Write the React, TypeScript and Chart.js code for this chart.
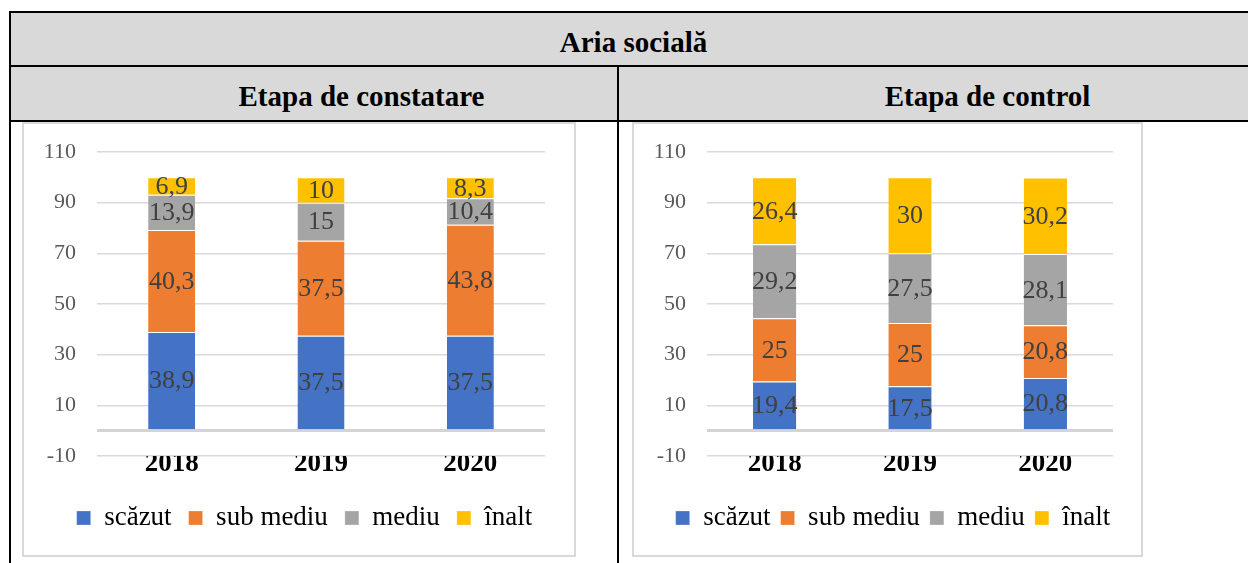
import React, { useEffect, useRef } from 'react';
import { Chart, registerables } from 'chart.js';

Chart.register(...registerables);

const years = ['2018', '2019', '2020'];
const seriesNames = ['scăzut', 'sub mediu', 'mediu', 'înalt'];
const seriesColors = ['#4472c4', '#ed7d31', '#a5a5a5', '#ffc000'];

const constatareScazut = [38.9, 37.5, 37.5];
const constatareSubMediu = [40.3, 37.5, 43.8];
const constatareMediu = [13.9, 15, 10.4];
const constatareInalt = [6.9, 10, 8.3];

const controlScazut = [19.4, 17.5, 20.8];
const controlSubMediu = [25, 25, 20.8];
const controlMediu = [29.2, 27.5, 28.1];
const controlInalt = [26.4, 30, 30.2];

const yTicks = [-10, 10, 30, 50, 70, 90, 110];

const SERIF = "'Liberation Serif', 'Times New Roman', serif";

const valueLabels = {
  id: 'valueLabels',
  afterDatasetsDraw(chart: any) {
    const ctx = chart.ctx;
    ctx.save();
    ctx.font = `26px ${SERIF}`;
    ctx.fillStyle = '#404040';
    ctx.textAlign = 'center';
    ctx.textBaseline = 'middle';
    chart.data.datasets.forEach((ds: any, i: number) => {
      const meta = chart.getDatasetMeta(i);
      meta.data.forEach((el: any, j: number) => {
        const v = ds.data[j];
        const { x, y, base } = el.getProps(['x', 'y', 'base'], true);
        ctx.fillText(String(v).replace('.', ','), x, (y + base) / 2 + 1);
      });
    });
    ctx.restore();
  },
};

const legendShift = {
  id: 'legendShift',
  afterLayout(chart: any, _args: any, opts: any) {
    const lg = chart.legend;
    if (lg && opts && opts.dx) {
      lg.left += opts.dx;
      lg.right += opts.dx;
    }
  },
};

type BoxProps = {
  series: number[][];
  width: number;
  height: number;
  padRight: number;
  yWidth: number;
  legendPad: number;
  legendDx: number;
  barPct: number;
};

function StackedChart(p: BoxProps) {
  const ref = useRef<HTMLCanvasElement | null>(null);
  useEffect(() => {
    if (!ref.current) return;
    const xHeight = 48.5 - p.legendPad;
    const chart = new Chart(ref.current, {
      type: 'bar',
      data: {
        labels: years,
        datasets: seriesNames.map((name, i) => ({
          label: name,
          data: p.series[i],
          backgroundColor: seriesColors[i],
          borderColor: '#ffffff',
          borderWidth: { top: 1, right: 0, bottom: 0, left: 0 },
          borderSkipped: 'start',
          categoryPercentage: 1,
          barPercentage: p.barPct,
        })),
      },
      options: {
        responsive: false,
        animation: false,
        devicePixelRatio: 1,
        layout: { autoPadding: false, padding: { top: 28, left: 0, right: p.padRight, bottom: 13.5 } },
        plugins: {
          tooltip: { enabled: false },
          legendShift: { dx: p.legendDx },
          legend: {
            position: 'bottom',
            labels: {
              boxWidth: 14,
              boxHeight: 14,
              padding: p.legendPad,
              color: '#000000',
              font: { family: SERIF, size: 27 },
            },
          },
        },
        scales: {
          x: {
            stacked: true,
            grid: { display: false, drawTicks: false },
            border: { display: false },
            ticks: {
              padding: -8,
              color: '#000000',
              maxRotation: 0,
              font: { family: SERIF, size: 27, weight: 'bold' },
            },
            afterFit: (s: any) => {
              s.height = xHeight;
              s.paddingLeft = 0;
              s.paddingRight = 0;
            },
          },
          y: {
            stacked: true,
            min: yTicks[0],
            max: yTicks[yTicks.length - 1],
            afterBuildTicks: (s: any) => {
              s.ticks = [...yTicks, 0].map((v) => ({ value: v }));
            },
            afterFit: (s: any) => {
              s.width = p.yWidth;
              s.paddingTop = 0;
              s.paddingBottom = 0;
            },
            grid: {
              drawTicks: false,
              color: (c: any) => (c.tick && c.tick.value === 0 ? '#d4d4d4' : '#d9d9d9'),
              lineWidth: (c: any) => (c.tick && c.tick.value === 0 ? 3 : 1.5),
            },
            border: { display: false },
            ticks: {
              autoSkip: false,
              padding: 21,
              color: '#595959',
              font: { family: SERIF, size: 22 },
              callback: (v: any) => (Number(v) === 0 ? '' : String(v)),
            },
          },
        },
      },
      plugins: [valueLabels, legendShift],
    } as any);
    return () => chart.destroy();
  }, []);
  return <canvas ref={ref} width={p.width} height={p.height} style={{ display: 'block', width: p.width, height: p.height }} />;
}

const abs = (s: React.CSSProperties): React.CSSProperties => ({ position: 'absolute', ...s });

export default function App() {
  const titleStyle = (center: number, top: number): React.CSSProperties =>
    abs({
      left: center - 300,
      top,
      width: 600,
      textAlign: 'center',
      fontFamily: SERIF,
      fontWeight: 'bold',
      fontSize: 29,
      lineHeight: '32px',
      color: '#000',
      whiteSpace: 'nowrap',
    });
  return (
    <div style={abs({ left: 0, top: 0, width: 1248, height: 563, background: '#fff', overflow: 'hidden' })}>
      <div style={abs({ left: 11, top: 13, width: 1237, height: 107, background: '#d9d9d9' })} />
      <div style={abs({ left: 9, top: 11, width: 1239, height: 2, background: '#000' })} />
      <div style={abs({ left: 9, top: 11, width: 2, height: 552, background: '#000' })} />
      <div style={abs({ left: 9, top: 65, width: 1239, height: 2, background: '#000' })} />
      <div style={abs({ left: 9, top: 120, width: 1239, height: 2, background: '#000' })} />
      <div style={abs({ left: 617, top: 65, width: 2, height: 498, background: '#000' })} />

      <div style={titleStyle(633.5, 26)}>Aria socială</div>
      <div style={titleStyle(361.5, 80)}>Etapa de constatare</div>
      <div style={titleStyle(987.5, 80)}>Etapa de control</div>

      <div
        style={abs({ left: 22, top: 122, width: 554, height: 435, border: '2px solid #d9d9d9', boxSizing: 'border-box', background: '#fff' })}
      >
        <StackedChart
          series={[constatareScazut, constatareSubMediu, constatareMediu, constatareInalt]}
          width={550}
          height={431}
          padRight={29}
          yWidth={73}
          legendPad={17}
          legendDx={20}
          barPct={0.315}
        />
      </div>
      <div
        style={abs({ left: 632, top: 122, width: 511, height: 435, border: '2px solid #d9d9d9', boxSizing: 'border-box', background: '#fff' })}
      >
        <StackedChart
          series={[controlScazut, controlSubMediu, controlMediu, controlInalt]}
          width={507}
          height={431}
          padRight={28}
          yWidth={73}
          legendPad={10}
          legendDx={19.5}
          barPct={0.32}
        />
      </div>
    </div>
  );
}
